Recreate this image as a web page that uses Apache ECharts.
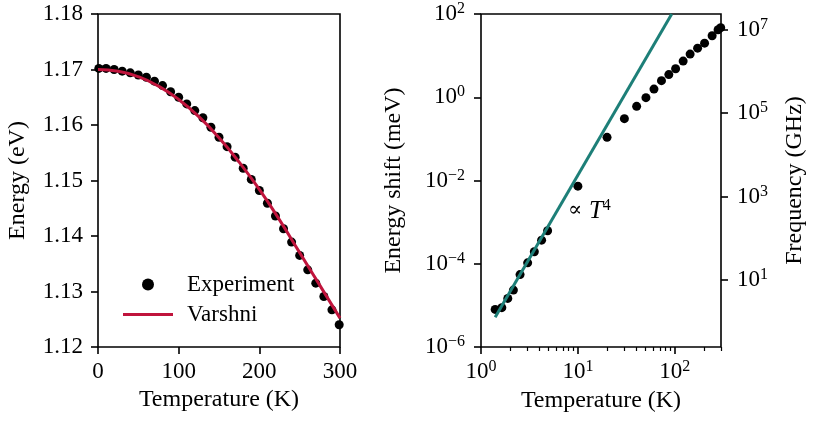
<!DOCTYPE html>
<html><head><meta charset="utf-8">
<script src="https://cdn.jsdelivr.net/npm/echarts@6/dist/echarts.min.js"></script>
<style>html,body{margin:0;padding:0;background:#fff}#c{width:818px;height:424px}</style>
</head><body><div id="c"></div>
<script>
// ---------- Left panel: band-gap energy vs temperature ----------
const expT = [1, 10, 20, 30, 40, 50, 60, 70, 80, 90, 100, 110, 120, 130, 140, 150, 160, 170, 180, 190, 200, 210, 220, 230, 240, 250, 260, 270, 280, 290, 299];
const expE = [1.1702, 1.1702, 1.1700, 1.1697, 1.1694, 1.1690, 1.1686, 1.1679, 1.1671, 1.1660, 1.1650, 1.1638, 1.1626, 1.1613, 1.1596, 1.1578, 1.1561, 1.1542, 1.1522, 1.1502, 1.1482, 1.1459, 1.1436, 1.1413, 1.1389, 1.1365, 1.1339, 1.1315, 1.1291, 1.1267, 1.1240];
const varT = [0, 25, 50, 75, 100, 125, 150, 175, 200, 225, 250, 275, 300];
const varE = [1.1700, 1.1697, 1.1687, 1.1670, 1.1646, 1.1615, 1.1577, 1.1533, 1.1484, 1.1429, 1.1370, 1.1311, 1.1252];
const leftXTicks = [0, 100, 200, 300];
const energyTicks = [1.12, 1.13, 1.14, 1.15, 1.16, 1.17, 1.18];

// ---------- Right panel: energy shift vs temperature (log-log) ----------
const shiftT = [1.40, 1.64, 1.89, 2.16, 2.53, 3.03, 3.55, 4.22, 4.87, 10.0, 20.0, 30.2, 40.4, 50.4, 61.0, 72.9, 86.8, 102, 122, 144, 172, 203, 243, 280, 298];
const shiftE = [8.0e-6, 8.8e-6, 1.47e-5, 2.33e-5, 5.5e-5, 1.05e-4, 1.94e-4, 3.69e-4, 6.2e-4, 7.3e-3, 0.109, 0.306, 0.604, 0.977, 1.57, 2.5, 3.5, 4.84, 7.38, 10.9, 15.1, 19.9, 30, 41.8, 47];
const fitT = [1.40, 93];
const fitE = [5.2e-6, 100];
const logXMajor = [1, 10, 100];
const logXMinor = [2, 3, 4, 5, 6, 7, 8, 9, 20, 30, 40, 50, 60, 70, 80, 90, 200, 300];
const shiftTicks = [1e-6, 1e-4, 1e-2, 1, 1e2];
const freqTicks = [1e1, 1e3, 1e5, 1e7];
const GHZ_PER_MEV = 2.418e5;
const T_RANGE = [1, 300];
const SHIFT_RANGE = [1e-6, 1e2];

const FONT = 'Liberation Serif';
const FS = 23;
const FN = 24;
const RED = '#c0143c';
const TEAL = '#1d7f78';

const lg = Math.log10;
const sup = n => (n < 0 ? '\u2212' + (-n) : '' + n);
const richPow = () => ({
  b: { fontFamily: FONT, fontSize: FS, color: '#000', lineHeight: 26 },
  s: { fontFamily: FONT, fontSize: 16, color: '#000', verticalAlign: 'top', lineHeight: 16 }
});
const powFmt = v => '{b|10}{s|' + sup(Math.round(v)) + '}';

const nameStyle = () => ({ fontFamily: FONT, fontSize: FN, color: '#000' });
const labelBase = () => ({ fontFamily: FONT, fontSize: FS, color: '#000' });
const tickMajor = (vals) => { const o = { show: true, inside: false, length: 7, lineStyle: { color: '#000', width: 1.6 } }; if (vals) o.customValues = vals; return o; };
const tickMinor = (vals) => ({ show: true, inside: false, length: 4, customValues: vals, lineStyle: { color: '#000', width: 1.2 } });
const noLine = () => ({ show: false, onZero: false });
const hidden = () => ({ axisLine: noLine(), axisTick: { show: false }, axisLabel: { show: false }, splitLine: { show: false } });

const chart = echarts.init(document.getElementById('c'), null, { renderer: 'canvas' });
chart.setOption({
  animation: false,
  backgroundColor: '#fff',
  textStyle: { fontFamily: FONT },
  grid: [
    { left: 98, top: 14, width: 242, height: 333, show: true, borderColor: '#000', borderWidth: 1.6, backgroundColor: 'transparent' },
    { left: 481, top: 14, width: 240, height: 333, show: true, borderColor: '#000', borderWidth: 1.6, backgroundColor: 'transparent' }
  ],
  legend: {
    orient: 'vertical', left: 118, top: 268, itemWidth: 50, itemHeight: 12, itemGap: 7,
    textStyle: { fontFamily: FONT, fontSize: FS, color: '#000', padding: [0, 0, 0, 9] },
    data: [
      { name: 'Experiment', icon: 'circle' },
      { name: 'Varshni', icon: 'path://M0 0H50V3H0Z' }
    ]
  },
  xAxis: [
    { gridIndex: 0, type: 'value', position: 'bottom', min: leftXTicks[0], max: leftXTicks[leftXTicks.length - 1], interval: 100,
      axisLine: noLine(), splitLine: { show: false }, axisTick: tickMajor(),
      axisLabel: Object.assign({ margin: 13 }, labelBase()),
      name: 'Temperature (K)', nameLocation: 'middle', nameGap: 40, nameTextStyle: nameStyle() },
    Object.assign({ gridIndex: 1, type: 'log', position: 'bottom', min: T_RANGE[0], max: T_RANGE[1] }, hidden()),
    { gridIndex: 1, type: 'value', position: 'bottom', min: lg(T_RANGE[0]), max: lg(T_RANGE[1]),
      axisLine: noLine(), splitLine: { show: false },
      axisTick: tickMajor(logXMajor.map(lg)),
      axisLabel: { customValues: logXMajor.map(lg), margin: 12, formatter: powFmt, rich: richPow() },
      name: 'Temperature (K)', nameLocation: 'middle', nameGap: 40, nameTextStyle: nameStyle() },
    { gridIndex: 1, type: 'value', position: 'bottom', min: lg(T_RANGE[0]), max: lg(T_RANGE[1]),
      axisLine: noLine(), splitLine: { show: false }, axisLabel: { show: false },
      axisTick: tickMinor(logXMinor.map(lg)) }
  ],
  yAxis: [
    { gridIndex: 0, type: 'value', position: 'left', min: energyTicks[0], max: energyTicks[energyTicks.length - 1], interval: 0.01,
      axisLine: noLine(), splitLine: { show: false }, axisTick: tickMajor(),
      axisLabel: Object.assign({ margin: 15, formatter: v => v.toFixed(2) }, labelBase()),
      name: 'Energy (eV)', nameLocation: 'middle', nameGap: 68, nameRotate: 90, nameTextStyle: nameStyle() },
    Object.assign({ gridIndex: 1, type: 'log', position: 'left', min: SHIFT_RANGE[0], max: SHIFT_RANGE[1] }, hidden()),
    { gridIndex: 1, type: 'value', position: 'left', min: lg(SHIFT_RANGE[0]), max: lg(SHIFT_RANGE[1]),
      axisLine: noLine(), splitLine: { show: false },
      axisTick: tickMajor(shiftTicks.map(lg)),
      axisLabel: { customValues: shiftTicks.map(lg), margin: 16, formatter: powFmt, rich: richPow() },
      name: 'Energy shift (meV)', nameLocation: 'middle', nameGap: 75, nameRotate: 90, nameTextStyle: nameStyle() },
    { gridIndex: 1, type: 'value', position: 'right',
      min: lg(SHIFT_RANGE[0] * GHZ_PER_MEV), max: lg(SHIFT_RANGE[1] * GHZ_PER_MEV),
      axisLine: noLine(), splitLine: { show: false },
      axisTick: tickMajor(freqTicks.map(lg)),
      axisLabel: { customValues: freqTicks.map(lg), margin: 16, formatter: powFmt, rich: richPow() },
      name: 'Frequency (GHz)', nameLocation: 'middle', nameGap: 62, nameRotate: 90, nameTextStyle: nameStyle() }
  ],
  series: [
    { name: 'Experiment', type: 'scatter', xAxisIndex: 0, yAxisIndex: 0, symbol: 'circle', symbolSize: 9,
      itemStyle: { color: '#000', opacity: 1 }, data: expT.map((t, i) => [t, expE[i]]), z: 2 },
    { name: 'Varshni', type: 'line', xAxisIndex: 0, yAxisIndex: 0, showSymbol: false, smooth: true,
      lineStyle: { color: RED, width: 3 }, itemStyle: { color: RED }, data: varT.map((t, i) => [t, varE[i]]), z: 3 },
    { name: 'shift', type: 'scatter', xAxisIndex: 1, yAxisIndex: 1, symbol: 'circle', symbolSize: 9,
      itemStyle: { color: '#000', opacity: 1 }, data: shiftT.map((t, i) => [t, shiftE[i]]), z: 2 },
    { name: 'T4', type: 'line', xAxisIndex: 1, yAxisIndex: 1, showSymbol: false,
      lineStyle: { color: TEAL, width: 3 }, data: fitT.map((t, i) => [t, fitE[i]]), z: 3 }
  ],
  graphic: [
    { type: 'text', left: 568, top: 198, style: {
        text: '{a|\u221d }{t|T}{s|4}',
        rich: {
          a: { fontFamily: 'DejaVu Serif', fontSize: 21, fill: '#000', lineHeight: 26 },
          t: { fontFamily: FONT, fontSize: 25, fontStyle: 'italic', fill: '#000', lineHeight: 26 },
          s: { fontFamily: FONT, fontSize: 16, fill: '#000', verticalAlign: 'top', lineHeight: 16 }
        } } }
  ]
});
</script>
</body></html>
